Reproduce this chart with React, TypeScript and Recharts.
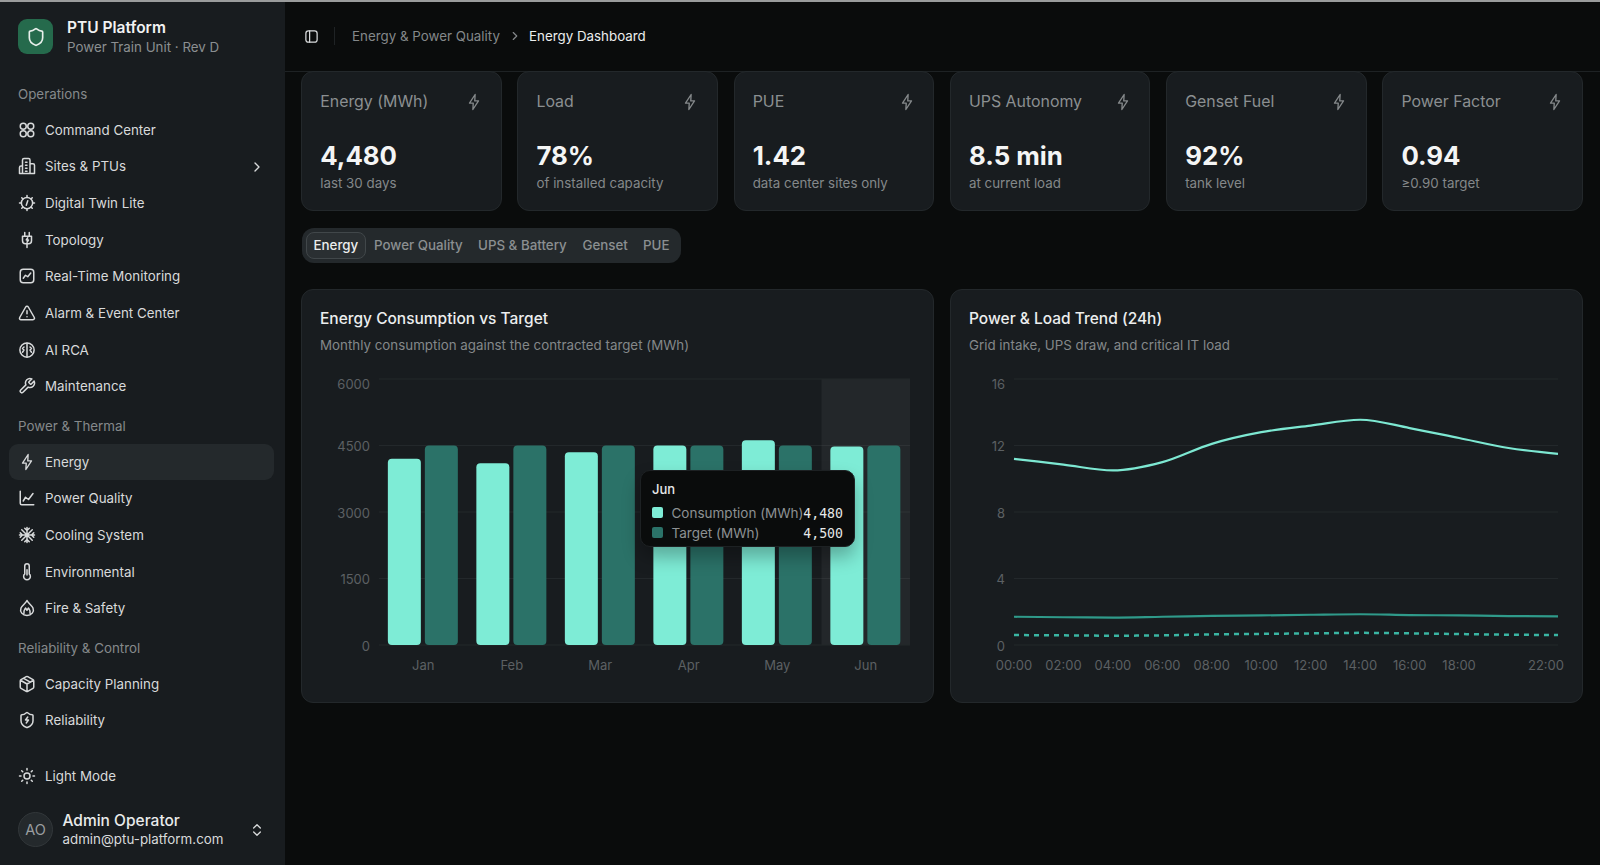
import React from "react";
import {
  BarChart,
  Bar,
  LineChart,
  Line,
  XAxis,
  YAxis,
  CartesianGrid,
  Tooltip,
} from "recharts";

const MONTHS = ["Jan", "Feb", "Mar", "Apr", "May", "Jun"];
const CONSUMPTION = [4200, 4100, 4350, 4500, 4620, 4480];
const TARGET = [4500, 4500, 4500, 4500, 4500, 4500];
const ENERGY_TICKS = [0, 1500, 3000, 4500, 6000];

const HOURS = ["00:00", "02:00", "04:00", "06:00", "08:00", "10:00", "12:00", "14:00", "16:00", "18:00", "20:00", "22:00"];
const GRID_INTAKE = [11.2, 10.85, 10.5, 11.0, 12.1, 12.8, 13.2, 13.55, 13.05, 12.45, 11.85, 11.5];
const UPS_DRAW = [1.7, 1.67, 1.65, 1.7, 1.75, 1.78, 1.82, 1.85, 1.8, 1.78, 1.74, 1.72];
const IT_LOAD = [0.6, 0.58, 0.56, 0.58, 0.64, 0.67, 0.7, 0.73, 0.7, 0.66, 0.62, 0.6];
const POWER_TICKS = [0, 4, 8, 12, 16];

const KPI_TITLES = ["Energy (MWh)", "Load", "PUE", "UPS Autonomy", "Genset Fuel", "Power Factor"];
const KPI_VALUES = ["4,480", "78%", "1.42", "8.5 min", "92%", "0.94"];
const KPI_NOTES = ["last 30 days", "of installed capacity", "data center sites only", "at current load", "tank level", "≥0.90 target"];

const NAV_SECTIONS = [
  { label: "Operations", y: 94 },
  { label: "Power & Thermal", y: 426 },
  { label: "Reliability & Control", y: 648 },
];
const NAV_ITEMS = [
  { label: "Command Center", y: 129.5, icon: "grid" },
  { label: "Sites & PTUs", y: 166, icon: "building" },
  { label: "Digital Twin Lite", y: 203, icon: "cpu" },
  { label: "Topology", y: 239.5, icon: "plug" },
  { label: "Real-Time Monitoring", y: 276, icon: "activity" },
  { label: "Alarm & Event Center", y: 313, icon: "alert" },
  { label: "AI RCA", y: 349.5, icon: "brain" },
  { label: "Maintenance", y: 386, icon: "wrench" },
  { label: "Energy", y: 461.5, icon: "zap" },
  { label: "Power Quality", y: 498, icon: "chart" },
  { label: "Cooling System", y: 535, icon: "snow" },
  { label: "Environmental", y: 571.5, icon: "thermo" },
  { label: "Fire & Safety", y: 608, icon: "flame" },
  { label: "Capacity Planning", y: 683.5, icon: "box" },
  { label: "Reliability", y: 720, icon: "shieldzap" },
  { label: "Light Mode", y: 775.5, icon: "sun" },
];
const TABS = [
  { label: "Power Quality", x: 374 },
  { label: "UPS & Battery", x: 478 },
  { label: "Genset", x: 582.5 },
  { label: "PUE", x: 643 },
];

const energyData = MONTHS.map((month, i) => ({ month, consumption: CONSUMPTION[i], target: TARGET[i] }));
const powerData = HOURS.map((time, i) => ({ time, grid: GRID_INTAKE[i], ups: UPS_DRAW[i], it: IT_LOAD[i] }));

const BODY_SIZE = 13.35;
const SHIELD = "M20 13c0 5-3.5 7.5-7.66 8.95a1 1 0 0 1-.67-.01C7.5 20.5 4 18 4 13V6a1 1 0 0 1 1-1c2 0 4.5-1.2 6.24-2.72a1.17 1.17 0 0 1 1.52 0C14.51 3.81 17 5 19 5a1 1 0 0 1 1 1z";
const ZAP = "M13.5 2 6 13.5h5L10.5 22 18 10.5h-5Z";

const ICONS: Record<string, React.ReactNode> = {
  grid: (<><circle cx="7" cy="7" r="4" /><circle cx="17" cy="7" r="4" /><circle cx="7" cy="17" r="4" /><circle cx="17" cy="17" r="4" /></>),
  building: <path d="M6 22V4a2 2 0 0 1 2-2h6a2 2 0 0 1 2 2v18Z M16 9h4a2 2 0 0 1 2 2v11h-6 M2 22h20 M6 12H4a2 2 0 0 0-2 2v8 M10 7h2 M10 11h2 M10 15h2 M10 19h2" />,
  cpu: (<><circle cx="12" cy="12" r="7.5" /><path d="M12 2v2 M12 20v2 M2 12h2 M20 12h2 M5 5l1.5 1.5 M19 5l-1.5 1.5 M5 19l1.5-1.5 M19 19l-1.5-1.5 M13 9l-2 6" /></>),
  plug: <path d="M12 22v-5 M9 7V2 M15 7V2 M18 7v6a4 4 0 0 1-4 4h-4a4 4 0 0 1-4-4V7Z M13 9l-2 3h3l-2 3" />,
  activity: (<><rect x="3" y="3" width="18" height="18" rx="4" /><path d="M7 15l3-4 3 2 4-5" /></>),
  alert: <path d="m21.73 18-8-14a2 2 0 0 0-3.48 0l-8 14A2 2 0 0 0 4 21h16a2 2 0 0 0 1.73-3 M12 9v4 M12 17h.01" />,
  brain: (<><circle cx="12" cy="12" r="9.5" /><path d="M12 3v18 M8 8l-2 2 2 2 M8 12l-2 3 M16 8l2 2-2 2 M16 12l2 3" /></>),
  wrench: <path d="M14.7 6.3a1 1 0 0 0 0 1.4l1.6 1.6a1 1 0 0 0 1.4 0l3.77-3.77a6 6 0 0 1-7.94 7.94l-6.91 6.91a2.12 2.12 0 0 1-3-3l6.91-6.91a6 6 0 0 1 7.94-7.94l-3.76 3.76z" />,
  zap: <path d={ZAP} strokeWidth={1.8} />,
  chart: <path d="M3 3v16a2 2 0 0 0 2 2h16 M7 16l3-5 4 3 6-8" />,
  snow: <path d="M2 12h20 M12 2v20 M5 5l14 14 M19 5 5 19 M9 3l3 3 3-3 M9 21l3-3 3 3 M3 9l3 3-3 3 M21 9l-3 3 3 3" />,
  thermo: <path d="M15 4v10.54a4.5 4.5 0 1 1-6 0V4a3 3 0 0 1 6 0Z M12 9v7" />,
  flame: <path d="M12 2c1 3 6 6 8 10 2 5-2 10-8 10S2 17 4 12c2-4 7-7 8-10Z M8 19c-1-3 1-5 2-7l2 3 2-3c1 2 3 4 2 7" />,
  box: <path d="M21 8a2 2 0 0 0-1-1.73l-7-4a2 2 0 0 0-2 0l-7 4A2 2 0 0 0 3 8v8a2 2 0 0 0 1 1.73l7 4a2 2 0 0 0 2 0l7-4A2 2 0 0 0 21 16Z M3.3 7l8.7 5 8.7-5 M12 22V12 M7.5 4.5l9 5" />,
  shieldzap: (<><path d={SHIELD} /><path d="M13 8l-3 4h4l-3 4" /></>),
  sun: (<><circle cx="12" cy="12" r="4" /><path d="M12 2v2 M12 20v2 M4.93 4.93l1.41 1.41 M17.66 17.66l1.41 1.41 M2 12h2 M20 12h2 M6.34 17.66l-1.41 1.41 M19.07 4.93l-1.41 1.41" /></>),
};

function Icon({ x, y, size = 18, color = "#d8dadb", width = 2, children }: any) {
  return (
    <svg
      width={size}
      height={size}
      viewBox="0 0 24 24"
      fill="none"
      stroke={color}
      strokeWidth={width}
      strokeLinecap="round"
      strokeLinejoin="round"
      style={{ position: "absolute", left: x - size / 2, top: y - size / 2 }}
    >
      {children}
    </svg>
  );
}

function Label({ x, y, size = BODY_SIZE, color = "#d8dadb", weight = 400, children, font }: any) {
  return (
    <div
      style={{
        position: "absolute",
        left: x,
        top: y,
        transform: "translateY(-50%)",
        fontSize: size,
        color,
        fontWeight: weight,
        fontFamily: font,
        whiteSpace: "nowrap",
        lineHeight: 1.2,
      }}
    >
      {children}
    </div>
  );
}

function EnergyTooltip({ active, payload, label }: any) {
  if (!active || !payload?.length) return null;
  return (
    <div
      style={{
        width: 215,
        height: 77,
        boxSizing: "border-box",
        background: "#0a0c0c",
        border: "1px solid #1d2123",
        borderRadius: 10,
        position: "relative",
        boxShadow: "0 10px 18px rgba(0,0,0,0.28)",
      }}
    >
      <Label x={11} y={18.5} size={13} color="#e6e8e8" weight={500}>{label}</Label>
      {payload.map((item: any, i: number) => (
        <div key={item.dataKey}>
          <div
            style={{
              position: "absolute",
              left: 11,
              top: 36 + i * 20,
              width: 11,
              height: 11,
              borderRadius: 2,
              background: item.color,
            }}
          />
          <Label x={30.5} y={42 + i * 20} size={13.5} color="#8d9193">{item.name}</Label>
          <div
            style={{
              position: "absolute",
              right: 11,
              top: 42 + i * 20,
              transform: "translateY(-50%)",
              fontFamily: "'DejaVu Sans Mono', monospace",
              fontSize: 13.2,
              color: "#e6e8e8",
            }}
          >
            {item.value.toLocaleString("en-US")}
          </div>
        </div>
      ))}
    </div>
  );
}

const X_TICK = { fill: "#5c6063" };
const Y_TICK = { fill: "#5c6063", dy: 1, dx: -1 };

function EnergyChart() {
  return (
    <BarChart
      width={596}
      height={305}
      data={energyData}
      margin={{ top: 4, right: 6, bottom: 5, left: 0 }}
    >
      <CartesianGrid vertical={false} stroke="#23282b" />
      <XAxis dataKey="month" fontSize={13} tick={X_TICK} axisLine={false} tickLine={false} tickMargin={10} />
      <YAxis domain={[0, 6000]} ticks={ENERGY_TICKS} width={59} fontSize={13} tick={Y_TICK} axisLine={false} tickLine={false} />
      <Tooltip
        defaultIndex={5}
        position={{ x: 320, y: 95 }}
        content={<EnergyTooltip />}
        cursor={{ fill: "rgba(255,255,255,0.05)" }}
        isAnimationActive={false}
      />
      <Bar dataKey="consumption" name="Consumption (MWh)" fill="#7eecd6" radius={4} isAnimationActive={false} activeBar={false} />
      <Bar dataKey="target" name="Target (MWh)" fill="#2b7268" radius={4} isAnimationActive={false} activeBar={false} />
    </BarChart>
  );
}

function PowerChart() {
  return (
    <LineChart
      width={596}
      height={305}
      data={powerData}
      margin={{ top: 4, right: 6, bottom: 5, left: 0 }}
    >
      <CartesianGrid vertical={false} stroke="#23282b" />
      <XAxis dataKey="time" fontSize={13} tick={X_TICK} axisLine={false} tickLine={false} tickMargin={10} />
      <YAxis domain={[0, 16]} ticks={POWER_TICKS} width={46} fontSize={13} tick={Y_TICK} axisLine={false} tickLine={false} />
      <Line type="monotone" dataKey="grid" name="Grid intake" stroke="#7de8d2" strokeWidth={2.2} dot={false} isAnimationActive={false} />
      <Line type="monotone" dataKey="ups" name="UPS draw" stroke="#2f9a8a" strokeWidth={2.2} dot={false} isAnimationActive={false} />
      <Line type="monotone" dataKey="it" name="Critical IT load" stroke="#3ab5a3" strokeWidth={2.5} strokeDasharray="5 5" dot={false} isAnimationActive={false} />
    </LineChart>
  );
}

function Panel({ x, chartLeft, title, subtitle, children }: any) {
  return (
    <div
      style={{
        position: "absolute",
        left: x,
        top: 289,
        width: 633,
        height: 414,
        boxSizing: "border-box",
        background: "#181c1f",
        border: "1px solid #23282b",
        borderRadius: 12,
      }}
    >
      <Label x={18} y={29} size={15.5} color="#eceeee" weight={500}>{title}</Label>
      <Label x={18} y={55} color="#84888a">{subtitle}</Label>
      <div style={{ position: "absolute", left: chartLeft, top: 85 }}>{children}</div>
    </div>
  );
}

export default function App() {
  return (
    <div
      style={{
        position: "fixed",
        left: 0,
        top: 0,
        width: 1600,
        height: 865,
        overflow: "hidden",
        background: "#0a0c0c",
        fontFamily: "Inter, sans-serif",
      }}
    >
      <style>{"body { font-family: Inter, sans-serif; }"}</style>
      <div style={{ position: "absolute", left: 0, top: 0, width: 1600, height: 1.5, background: "#9a9c9c" }} />
      <div style={{ position: "absolute", left: 0, top: 1.5, width: 285, height: 864, background: "#181c1f" }} />
      <div style={{ position: "absolute", left: 285, top: 71, width: 1315, height: 1, background: "#1e2224" }} />

      <div style={{ position: "absolute", left: 18, top: 19, width: 35, height: 35, borderRadius: 9, background: "#256a4c" }} />
      <Icon x={35.5} y={36.5} size={20} color="#e8efeb"><path d={SHIELD} /></Icon>
      <Label x={67} y={28} size={15.5} color="#f1f2f2" weight={600}>PTU Platform</Label>
      <Label x={67} y={46.5} color="#8b8f91">Power Train Unit · Rev D</Label>

      {NAV_SECTIONS.map((s) => (
        <Label key={s.label} x={18} y={s.y} color="#85898b">{s.label}</Label>
      ))}
      <div style={{ position: "absolute", left: 9, top: 444, width: 265, height: 36, borderRadius: 9, background: "#24292c" }} />
      {NAV_ITEMS.map((item) => (
        <React.Fragment key={item.label}>
          <Icon x={27} y={item.y}>{ICONS[item.icon]}</Icon>
          <Label x={45} y={item.y}>{item.label}</Label>
        </React.Fragment>
      ))}
      <Icon x={256.5} y={166.5} size={16}><path d="m9 18 6-6-6-6" /></Icon>

      <div
        style={{
          position: "absolute",
          left: 18,
          top: 812,
          width: 35,
          height: 35,
          boxSizing: "border-box",
          borderRadius: "50%",
          background: "#24292c",
          border: "1px solid #32373a",
          color: "#9a9ea0",
          fontSize: 14.5,
          textAlign: "center",
          lineHeight: "33px",
        }}
      >
        AO
      </div>
      <Label x={62.5} y={820.5} size={15.5} color="#e9ebeb" weight={500}>Admin Operator</Label>
      <Label x={62.5} y={839} color="#d8dadb">admin@ptu-platform.com</Label>
      <Icon x={256.5} y={829.5} size={16}><path d="m7 15 5 5 5-5 M7 9l5-5 5 5" /></Icon>

      <Icon x={311} y={36} size={15} color="#d8dadb"><rect x="3" y="3" width="18" height="18" rx="4" /><path d="M9 3v18" /></Icon>
      <div style={{ position: "absolute", left: 334, top: 27, width: 1, height: 18, background: "#1f2325" }} />
      <Label x={352} y={36} color="#84888a">Energy &amp; Power Quality</Label>
      <Icon x={514.5} y={36} size={14} color="#84888a"><path d="m9 18 6-6-6-6" /></Icon>
      <Label x={529} y={36} color="#eceeee">Energy Dashboard</Label>

      {KPI_TITLES.map((title, i) => (
        <div
          key={title}
          style={{
            position: "absolute",
            left: 301.2 + i * 216.25,
            top: 71,
            width: 200.5,
            height: 140,
            boxSizing: "border-box",
            background: "#181c1f",
            border: "1px solid #23282b",
            borderRadius: 12,
          }}
        >
          <Label x={18} y={30} size={15.9} color="#8b8f91">{title}</Label>
          <Icon x={172} y={30} size={18} color="#84888a">{ICONS.zap}</Icon>
          <Label x={18} y={84} size={25.8} color="#f4f5f5" weight={700}>{KPI_VALUES[i]}</Label>
          <Label x={18} y={110.5} color="#84888a">{KPI_NOTES[i]}</Label>
        </div>
      ))}

      <div style={{ position: "absolute", left: 302, top: 228, width: 379, height: 35, borderRadius: 12, background: "#24292c" }} />
      <div
        style={{
          position: "absolute",
          left: 306,
          top: 232,
          width: 60,
          height: 27,
          boxSizing: "border-box",
          borderRadius: 8,
          background: "#2a2f32",
          border: "1px solid #41474a",
        }}
      />
      <Label x={313.5} y={245} color="#eceeee" weight={500}>Energy</Label>
      {TABS.map((t) => (
        <Label key={t.label} x={t.x} y={245} color="#8b8f91" weight={500}>{t.label}</Label>
      ))}

      <Panel x={301} chartLeft={18} title="Energy Consumption vs Target" subtitle="Monthly consumption against the contracted target (MWh)">
        <EnergyChart />
      </Panel>
      <Panel x={950} chartLeft={17} title="Power & Load Trend (24h)" subtitle="Grid intake, UPS draw, and critical IT load">
        <PowerChart />
      </Panel>
    </div>
  );
}
